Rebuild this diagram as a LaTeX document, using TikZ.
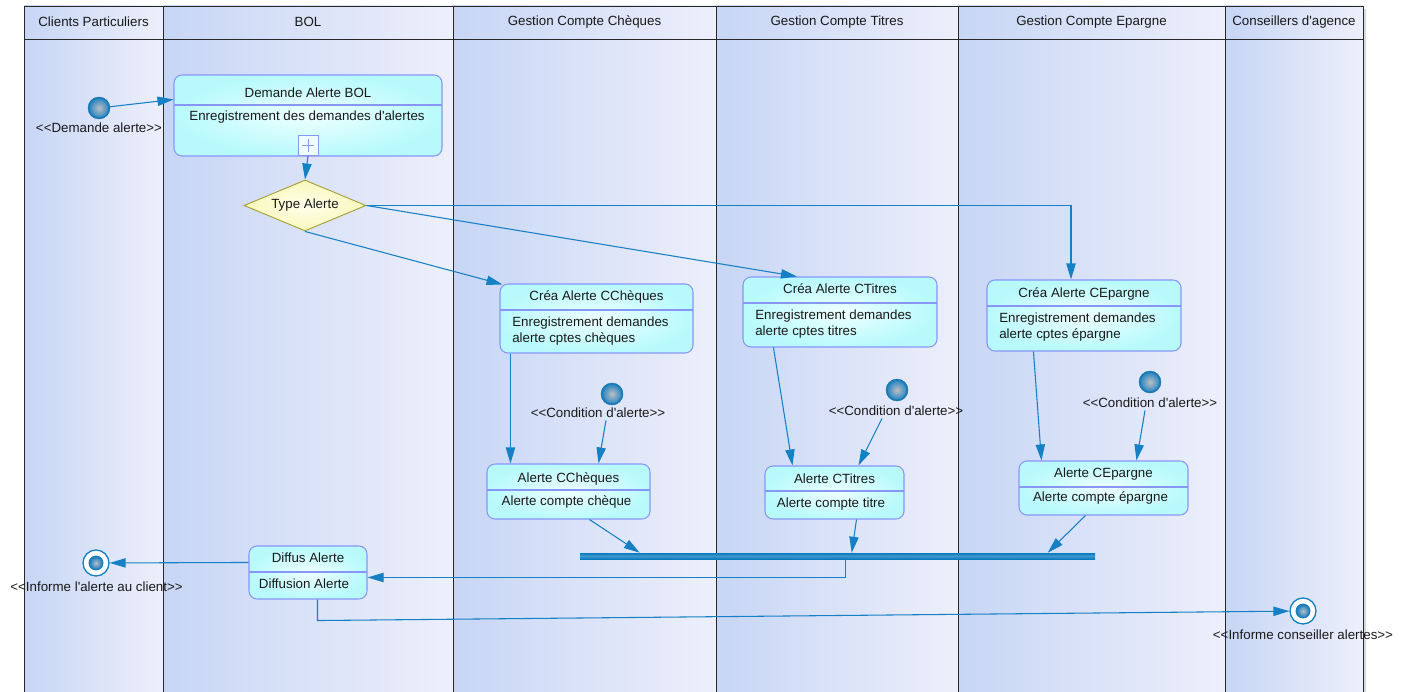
\documentclass[tikz,border=0pt]{standalone}
\usepackage{fontspec}
\newfontfamily\umlfont{Liberation Sans}
\usetikzlibrary{arrows.meta,shapes.geometric,fit,calc}

\definecolor{lanedark}{RGB}{199,214,245}
\definecolor{lanelight}{RGB}{237,239,251}
\definecolor{frameline}{RGB}{40,40,40}
\definecolor{flowblue}{RGB}{22,128,196}
\definecolor{boxedge}{RGB}{136,150,248}
\definecolor{boxin}{RGB}{238,255,255}
\definecolor{boxout}{RGB}{184,250,252}
\definecolor{decin}{RGB}{255,255,238}
\definecolor{decout}{RGB}{248,248,186}
\definecolor{decedge}{RGB}{168,160,60}
\definecolor{ballin}{RGB}{188,192,198}
\definecolor{ballout}{RGB}{26,126,190}
\definecolor{barblue}{RGB}{10,122,190}
\definecolor{textdark}{RGB}{25,25,25}

\begin{document}
\begin{tikzpicture}[x=0.75pt,y=-0.75pt,
  every node/.style={font=\umlfont\fontsize{10}{12}\selectfont, text=textdark},
  lanefill/.style={left color=lanedark, right color=lanelight},
  laneline/.style={draw=frameline, line width=0.6pt},
  lanetitle/.style={inner sep=0pt},
  actbox/.style={rectangle, rounded corners=6pt, inner sep=0pt, draw=boxedge,
    line width=0.8pt, inner color=boxin, outer color=boxout},
  boxsep/.style={draw=boxedge, line width=0.8pt},
  boxtitle/.style={inner sep=0pt},
  boxbody/.style={inner sep=0pt, align=left},
  plusbox/.style={rectangle, minimum size=15pt, inner sep=0pt, draw=boxedge,
    fill=boxin, line width=0.6pt,
    path picture={\draw[boxedge, line width=0.6pt]
      ($(path picture bounding box.center)+(-6,0)$) -- ($(path picture bounding box.center)+(6,0)$)
      ($(path picture bounding box.center)+(0,-6)$) -- ($(path picture bounding box.center)+(0,6)$);}},
  decision/.style={diamond, aspect=2.4, minimum width=91.5pt, minimum height=38.25pt,
    inner sep=0pt, draw=decedge, line width=0.7pt, inner color=decin, outer color=decout},
  initnode/.style={circle, minimum size=16.5pt, inner sep=0pt, fill=ballout,
    draw=ballout!85!black, line width=0.3pt,
    path picture={\shade[inner color=ballin, outer color=ballout]
      (path picture bounding box.center) circle (6.9pt);}},
  finalnode/.style={circle, minimum size=19.5pt, inner sep=0pt, draw=flowblue,
    line width=1pt, fill=white,
    path picture={\fill[ballout] (path picture bounding box.center) circle (5.6pt);
      \shade[inner color=ballin, outer color=ballout]
      (path picture bounding box.center) circle (4.7pt);}},
  stereo/.style={inner sep=1pt},
  joinbar/.style={rectangle, inner sep=0pt, top color=barblue, bottom color=barblue,
    middle color=white!22!barblue},
  flow/.style={draw=flowblue, line width=0.8pt, -{Triangle[length=12pt,width=7pt]}},
]
\useasboundingbox (0,0) rectangle (1411,692);

% ---- swimlanes ----
\fill[gray!30] (1363,9) rectangle (1366,692);
\foreach \xa/\xb in {24/163,163/453,453/716,716/958,958/1225,1225/1363}{
  \shade[lanefill] (\xa,6) rectangle (\xb,39);
  \shade[lanefill] (\xa,39) rectangle (\xb,692);
}
\draw[laneline] (24,692) -- (24,6) -- (1363,6) -- (1363,692);
\draw[laneline] (24,39) -- (1363,39);
\foreach \xx in {163,453,716,958,1225}{
  \draw[laneline] (\xx,6) -- (\xx,692);
}
\node[lanetitle] (lane-clients) at (93.5,22) {Clients Particuliers};
\node[lanetitle] (lane-bol) at (308,22) {BOL};
\node[lanetitle] (lane-cheques) at (584.5,22) {Gestion Compte Chèques};
\node[lanetitle] (lane-titres) at (837,22) {Gestion Compte Titres};
\node[lanetitle] (lane-epargne) at (1091.5,22) {Gestion Compte Epargne};
\node[lanetitle] (lane-conseil) at (1294,22) {Conseillers d'agence};

% ---- start / end nodes ----
\node[initnode] (start) at (99,108) {};
\node[stereo] (start-lbl) at (99,128) {<<Demande alerte>>};

\node[finalnode] (endC) at (96,563) {};
\node[stereo] (endC-lbl) at (96.5,586.5) {<<Informe l'alerte au client>>};

\node[finalnode] (endA) at (1303,611) {};
\node[stereo] (endA-lbl) at (1303,634.5) {<<Informe conseiller alertes>>};

\node[initnode] (condC) at (612,394) {};
\node[stereo] (condC-lbl) at (598,413) {<<Condition d'alerte>>};
\node[initnode] (condT) at (897,390) {};
\node[stereo] (condT-lbl) at (896,411) {<<Condition d'alerte>>};
\node[initnode] (condE) at (1150,382) {};
\node[stereo] (condE-lbl) at (1150,403) {<<Condition d'alerte>>};

% ---- activities ----
\node[actbox, fit={(174,75) (442,156)}] (dem) {};
\draw[boxsep] (174,105) -- (442,105);
\node[boxtitle] (dem-title) at (308,92.5) {Demande Alerte BOL};
\node[boxtitle] (dem-body) at (307,117.5) {Enregistrement des demandes d'alertes};
\node[plusbox] (dem-plus) at (308,145.5) {};

\node[decision] (type) at (305,205.5) {Type Alerte};

\node[actbox, fit={(500,284) (693,353)}] (creaC) {};
\draw[boxsep] (500,310) -- (693,310);
\node[boxtitle] (creaC-title) at (596.5,297) {Créa Alerte CChèques};
\node[boxbody, anchor=west] (creaC-body) at (512,331) {Enregistrement demandes\\alerte cptes chèques};

\node[actbox, fit={(743,277) (937,347)}] (creaT) {};
\draw[boxsep] (743,303) -- (937,303);
\node[boxtitle] (creaT-title) at (840,289) {Créa Alerte CTitres};
\node[boxbody, anchor=west] (creaT-body) at (755,324.5) {Enregistrement demandes\\alerte cptes titres};

\node[actbox, fit={(987,280) (1181,351)}] (creaE) {};
\draw[boxsep] (987,306) -- (1181,306);
\node[boxtitle] (creaE-title) at (1084,293.5) {Créa Alerte CEpargne};
\node[boxbody, anchor=west] (creaE-body) at (999,327.5) {Enregistrement demandes\\alerte cptes épargne};

\node[actbox, fit={(487,464) (650,519)}] (alC) {};
\draw[boxsep] (487,490) -- (650,490);
\node[boxtitle] (alC-title) at (568.5,478.5) {Alerte CChèques};
\node[boxtitle] (alC-body) at (566.5,502) {Alerte compte chèque};

\node[actbox, fit={(765,466) (904,519)}] (alT) {};
\draw[boxsep] (765,491) -- (904,491);
\node[boxtitle] (alT-title) at (834.5,479) {Alerte CTitres};
\node[boxtitle] (alT-body) at (831,504) {Alerte compte titre};

\node[actbox, fit={(1019,461) (1188,515)}] (alE) {};
\draw[boxsep] (1019,487) -- (1188,487);
\node[boxtitle] (alE-title) at (1103.5,474) {Alerte CEpargne};
\node[boxtitle] (alE-body) at (1100.5,498) {Alerte compte épargne};

\node[joinbar, fit={(580,553) (1095,559)}] (join) {};

\node[actbox, fit={(249,546) (367,599)}] (dif) {};
\draw[boxsep] (249,572) -- (367,572);
\node[boxtitle] (dif-title) at (308,558) {Diffus Alerte};
\node[boxtitle] (dif-body) at (304,584) {Diffusion Alerte};

% ---- control flows ----
\draw[flow] (start) -- ($(dem.north west)+(0,25)$);
\draw[flow] (dem-plus.south) -- (type.north);
\draw[flow] (type.south) -- ($(creaC.north west)+(3,1)$);
\draw[flow] (type.east) -- ($(creaT.north)+(-43,0)$);
\draw[flow] (type.east) -| ($(creaE.north)+(-13,0)$);

\draw[flow] ($(creaC.south west)+(11,0)$) -- ($(alC.north west)+(24,0)$);
\draw[flow] ($(creaT.south west)+(31,0)$) -- ($(alT.north west)+(28,0)$);
\draw[flow] ($(creaE.south west)+(47,0)$) -- ($(alE.north west)+(23,0)$);

\draw[flow] ($(condC-lbl.south)+(8,1)$) -- ($(alC.north west)+(112,0)$);
\draw[flow] ($(condT-lbl.south)+(-14,1)$) -- ($(alT.north west)+(94,0)$);
\draw[flow] ($(condE-lbl.south)+(-5,1)$) -- ($(alE.north west)+(118,0)$);

\draw[flow] ($(alC.south west)+(103,0)$) -- ($(join.north west)+(60,0)$);
\draw[flow] ($(alT.south west)+(92,0)$) -- ($(join.north west)+(272,0)$);
\draw[flow] ($(alE.south west)+(67,0)$) -- ($(join.north west)+(468,0)$);

\draw[flow] ($(join.south west)+(266,0)$) |- ($(dif.north east)+(0,32)$);
\draw[flow] ($(dif.north west)+(0,17)$) -- (endC);
\draw[flow] ($(dif.south west)+(69,0)$) -- ++(0,21) -- (endA);
\end{tikzpicture}
\end{document}
